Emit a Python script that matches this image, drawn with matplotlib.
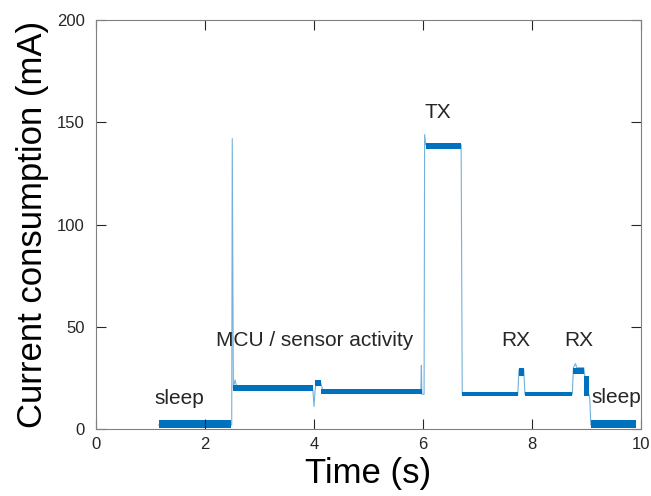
import matplotlib
matplotlib.use("Agg")
import matplotlib.pyplot as plt

plt.rcParams['font.family'] = ['Liberation Sans', 'DejaVu Sans']

# Main trace (time in s, current in mA)
trace_t = [1.15, 2.48, 2.49, 2.50, 2.52, 2.55, 2.58, 2.62, 3.98, 4.00, 4.02, 4.04,
           4.12, 4.16, 5.96, 5.97, 5.98, 6.02, 6.03, 6.05, 6.70, 6.72, 7.74, 7.76,
           7.85, 7.87, 8.74, 8.76, 8.80, 8.82, 8.95, 8.97, 9.06, 9.08, 9.90]
trace_i = [2, 2, 2, 142, 20, 24, 21, 20, 19, 11, 19, 23,
           23, 19, 18, 31, 17, 17, 144, 139, 139, 17, 17, 29,
           29, 17, 17, 30, 32, 30, 30, 26, 15, 2, 2]

# Noise bands (start, end, low, high)
band_start = [1.15, 2.52, 4.02, 4.12, 6.05, 6.72, 7.76, 7.87, 8.76, 8.95, 9.08]
band_end   = [2.48, 3.98, 4.12, 5.98, 6.70, 7.74, 7.85, 8.74, 8.95, 9.05, 9.90]
band_lo    = [0.5, 18.5, 21, 17, 137, 16, 26, 16, 27, 16, 0.5]
band_hi    = [4.2, 21.5, 24, 19.5, 140, 18, 30, 18, 30, 26, 4.2]

labels = ["sleep", "MCU / sensor activity", "TX", "RX", "RX", "sleep"]
label_x = [1.52, 4.02, 6.28, 7.7, 8.85, 9.54]
label_y = [12, 40.5, 152, 40.5, 40.5, 12.5]

x_ticks = [0, 2, 4, 6, 8, 10]
y_ticks = [0, 50, 100, 150, 200]

color = '#0072BD'
gray = '#262626'

fig = plt.figure(figsize=(6.51, 4.96), dpi=100)
ax = fig.add_axes([0.1475, 0.135, 0.8371, 0.8247])

for s, e, lo, hi in zip(band_start, band_end, band_lo, band_hi):
    ax.fill_between([s, e], [lo, lo], [hi, hi], color=color, linewidth=0)
ax.plot(trace_t, trace_i, color=color, linewidth=0.8, alpha=0.55)

for txt, x, y in zip(labels, label_x, label_y):
    ax.text(x, y, txt, fontsize=15, color=gray, ha='center', va='baseline')

ax.set_xlim(0, 10)
ax.set_ylim(0, 200)
ax.set_xticks(x_ticks)
ax.set_yticks(y_ticks)
ax.tick_params(direction='in', length=7, width=0.8, top=True, right=True,
               labelsize=12, colors=gray)
ax.tick_params(axis='y', pad=8)
ax.tick_params(axis='x', pad=6)
for sp in ax.spines.values():
    sp.set_color('#808080')
    sp.set_linewidth(0.8)
ax.set_xlabel('Time (s)', fontsize=25, color='black', labelpad=3)
ax.set_ylabel('Current consumption (mA)', fontsize=25, color='black', labelpad=6)

fig.savefig('out.png', dpi=100)
